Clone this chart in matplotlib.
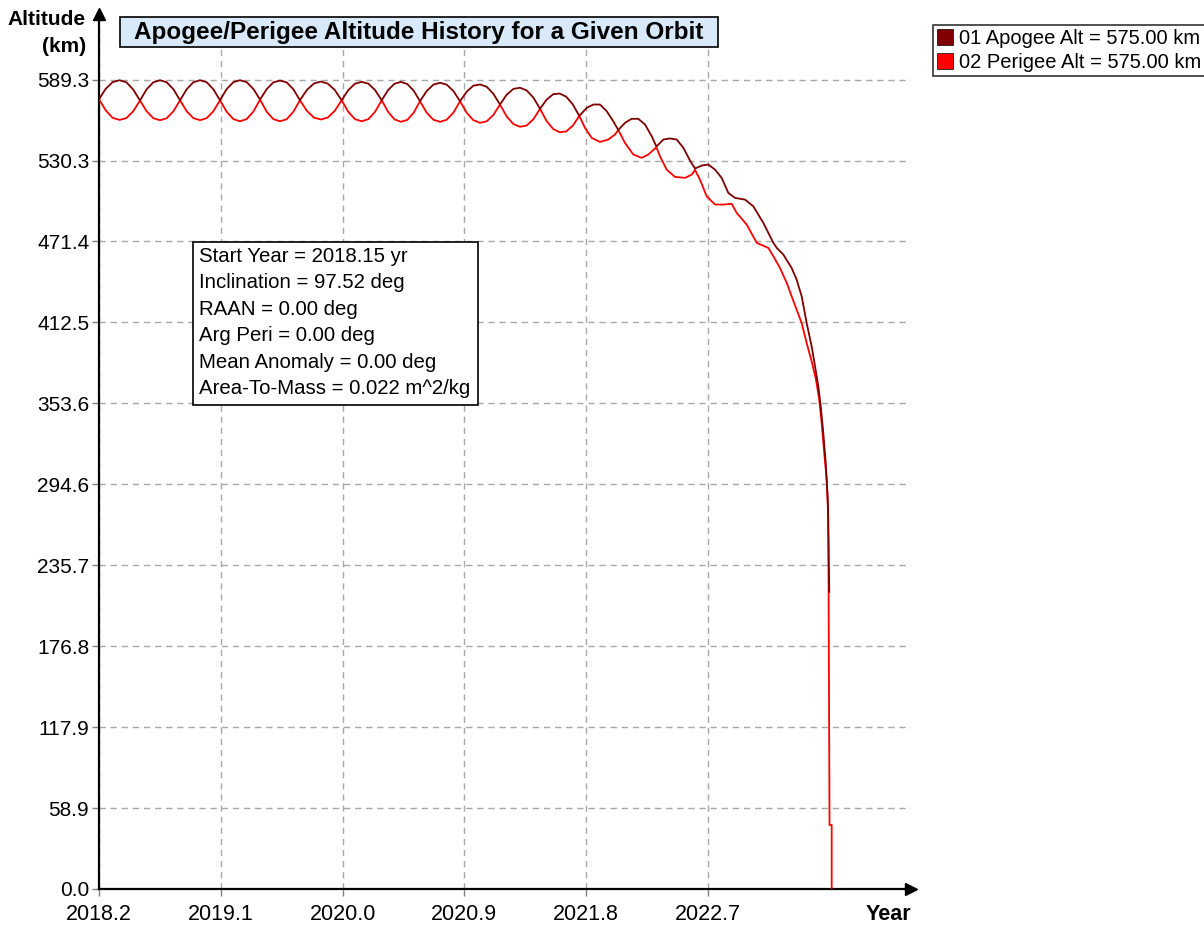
import matplotlib
matplotlib.use("Agg")
import matplotlib.pyplot as plt
from matplotlib.patches import Patch, Rectangle

plt.rcParams['font.family'] = ['Liberation Sans', 'DejaVu Sans']

# ==========================================
# DATA
# ==========================================

# first part: both series touch at the lobe edges
years_start = [
    2018.150, 2018.200, 2018.251, 2018.302, 2018.352, 2018.403,
    2018.453, 2018.502, 2018.552, 2018.601, 2018.650, 2018.700,
    2018.749, 2018.798, 2018.847, 2018.897, 2018.946, 2018.995,
    2019.044, 2019.093, 2019.143, 2019.192, 2019.241, 2019.291,
    2019.340, 2019.389, 2019.438, 2019.488, 2019.537, 2019.586,
    2019.635, 2019.686, 2019.738, 2019.789, 2019.840, 2019.892,
    2019.943, 2019.992, 2020.042, 2020.091, 2020.140, 2020.190,
    2020.239, 2020.286, 2020.333, 2020.381, 2020.428, 2020.475,
    2020.522, 2020.571, 2020.621, 2020.670, 2020.719, 2020.769,
    2020.818, 2020.867, 2020.916, 2020.966, 2021.015, 2021.064,
    2021.113, 2021.162, 2021.212, 2021.261, 2021.310, 2021.360,
    2021.409, 2021.457, 2021.506, 2021.554, 2021.602, 2021.651,
    2021.699,
]

apogee_start = [
    575.0, 582.6, 587.4, 588.8, 587.3, 582.0,
    574.0, 582.2, 587.3, 588.8, 587.3, 582.2,
    574.2, 582.2, 587.3, 588.8, 587.3, 582.2,
    574.2, 582.3, 587.4, 588.8, 587.4, 582.4,
    574.7, 582.3, 587.2, 588.6, 587.2, 582.2,
    574.2, 581.7, 586.4, 587.8, 586.4, 581.7,
    574.2, 581.6, 586.3, 587.6, 586.3, 581.6,
    574.2, 581.6, 586.2, 587.6, 586.0, 581.2,
    573.5, 580.9, 585.6, 586.9, 585.6, 580.9,
    573.5, 580.5, 584.8, 585.7, 584.0, 578.9,
    571.1, 578.2, 582.5, 583.3, 581.4, 576.1,
    568.0, 574.6, 578.6, 579.1, 576.8, 571.2,
    562.8,
]

perigee_start = [
    575.0, 566.8, 561.4, 559.9, 561.2, 566.2,
    574.0, 566.2, 561.1, 559.7, 561.1, 566.2,
    574.2, 566.2, 561.2, 559.7, 561.2, 566.2,
    574.2, 565.9, 560.5, 558.9, 560.5, 566.0,
    574.7, 565.9, 560.5, 558.9, 560.4, 565.8,
    574.2, 566.5, 561.6, 560.2, 561.6, 566.5,
    574.2, 565.8, 560.4, 558.9, 560.4, 565.8,
    574.2, 565.8, 560.3, 558.5, 559.9, 565.1,
    573.5, 565.2, 560.0, 558.5, 560.0, 565.2,
    573.5, 565.1, 559.7, 557.8, 558.9, 563.5,
    571.1, 562.5, 556.9, 554.9, 555.8, 560.4,
    568.0, 559.1, 553.3, 550.9, 551.5, 555.7,
    562.8,
]

apogee_tail_years = [
    2021.754, 2021.803, 2021.852, 2021.902, 2021.950, 2021.987,
    2022.037, 2022.086, 2022.135, 2022.185, 2022.234, 2022.269,
    2022.320, 2022.369, 2022.419, 2022.468, 2022.517, 2022.554,
    2022.604, 2022.652, 2022.702, 2022.751, 2022.800, 2022.850,
    2022.923, 2022.985, 2023.059, 2023.133, 2023.158, 2023.207,
    2023.268, 2023.305, 2023.342, 2023.379, 2023.416, 2023.441,
    2023.465, 2023.483, 2023.502, 2023.520, 2023.535, 2023.546,
]
apogee_tail = [
    568.7, 571.1, 571.1, 566.2, 558.9, 552.6,
    557.8, 560.7, 560.7, 556.5, 548.0, 540.5,
    545.6, 546.4, 545.6, 539.6, 530.3, 524.5,
    526.7, 527.4, 523.7, 517.7, 506.8, 503.1,
    501.9, 497.0, 484.9, 470.4, 466.7, 461.8,
    452.1, 443.6, 431.5, 412.1, 395.0, 380.5,
    365.9, 351.3, 331.9, 310.1, 283.4, 216.3,
]

perigee_tail_years = [
    2021.741, 2021.791, 2021.852, 2021.913, 2021.963, 2021.987,
    2022.037, 2022.098, 2022.160, 2022.209, 2022.269, 2022.295,
    2022.345, 2022.406, 2022.480, 2022.530, 2022.554, 2022.591,
    2022.640, 2022.702, 2022.763, 2022.825, 2022.862, 2022.936,
    2023.010, 2023.096, 2023.133, 2023.182, 2023.232, 2023.268,
    2023.305, 2023.342, 2023.379, 2023.416, 2023.448, 2023.472,
    2023.490, 2023.509, 2023.527, 2023.539, 2023.548, 2023.564,
    2023.564,
]
perigee_tail = [
    554.1, 546.8, 543.9, 545.6, 549.3, 552.6,
    543.1, 534.7, 532.3, 534.7, 540.0, 533.4,
    523.7, 518.4, 517.7, 520.1, 523.5, 516.4,
    504.3, 498.3, 498.3, 498.8, 492.2, 483.7,
    470.4, 466.7, 460.6, 452.1, 441.2, 431.5,
    421.8, 412.1, 397.5, 384.1, 370.8, 356.2,
    339.2, 317.4, 297.9, 271.2, 46.6, 46.6,
    0.0,
]

y_ticks = [0.0, 58.9, 117.9, 176.8, 235.7, 294.6, 353.6, 412.5, 471.4, 530.3, 589.3]
y_labels = ["0.0", "58.9", "117.9", "176.8", "235.7", "294.6",
            "353.6", "412.5", "471.4", "530.3", "589.3"]

x_ticks = [2018.15, 2019.05, 2019.95, 2020.85, 2021.75, 2022.65]
x_labels = ["2018.2", "2019.1", "2020.0", "2020.9", "2021.8", "2022.7"]

legend_labels = ["01 Apogee Alt = 575.00 km", "02 Perigee Alt = 575.00 km"]

info_lines = [
    "Start Year = 2018.15 yr",
    "Inclination = 97.52 deg",
    "RAAN = 0.00 deg",
    "Arg Peri = 0.00 deg",
    "Mean Anomaly = 0.00 deg",
    "Area-To-Mass = 0.022 m^2/kg",
]

apogee_color = "#800000"
perigee_color = "#ff0000"

W, H = 1204, 926


# ==========================================
# FIGURE
# ==========================================

fig = plt.figure(figsize=(W / 100, H / 100), dpi=100)

ax = fig.add_axes([99 / W, 37 / H, 812 / W, 875 / H])

ax.plot(
    years_start + perigee_tail_years,
    perigee_start + perigee_tail,
    color=perigee_color,
    lw=1.3,
    zorder=3
)

ax.plot(
    years_start + apogee_tail_years,
    apogee_start + apogee_tail,
    color=apogee_color,
    lw=1.3,
    zorder=4
)

ax.set_xlim(2018.15, 2024.15)
ax.set_ylim(0, 637)

ax.set_yticks(y_ticks)
ax.set_yticklabels(y_labels)
ax.set_xticks(x_ticks)
ax.set_xticklabels(x_labels)

ax.tick_params(axis="both", direction="out", length=5, width=1, color="#808080")
ax.tick_params(axis="y", labelsize=15, pad=2)
ax.tick_params(axis="x", labelsize=15.5, pad=6)

ax.grid(True, color="#a8a8a8", linestyle=(0, (4.5, 3.5)), lw=1.0)

for side in ["top", "right"]:
    ax.spines[side].set_visible(False)

for side in ["left", "bottom"]:
    ax.spines[side].set_linewidth(1.6)
    ax.spines[side].set_color("black")

# axis arrows
ax.plot([0], [1], marker="^", ms=9, color="black",
        transform=ax.transAxes, clip_on=False)
ax.plot([1], [0], marker=">", ms=9, color="black",
        transform=ax.transAxes, clip_on=False)


# ==========================================
# TITLE / LABELS
# ==========================================

fig.patches.append(Rectangle(
    (120 / W, 1 - 47 / H), 598 / W, 30 / H,
    transform=fig.transFigure, fc="#d8e9fa", ec="black", lw=1.2
))

fig.text(
    419 / W, 1 - 32 / H,
    "Apogee/Perigee Altitude History for a Given Orbit",
    ha="center", va="center",
    fontsize=17.5, fontweight="bold"
)

fig.text(
    86 / W, 1 - 33 / H,
    "Altitude\n(km)",
    ha="right", va="center", multialignment="right",
    fontsize=15, fontweight="bold", linespacing=1.55
)

fig.text(
    888 / W, 1 - 914 / H,
    "Year",
    ha="center", va="center",
    fontsize=15.5, fontweight="bold"
)


# ==========================================
# INFO BOX
# ==========================================

fig.patches.append(Rectangle(
    (193 / W, 1 - 405 / H), 285 / W, 163 / H,
    transform=fig.transFigure, fc="white", ec="black", lw=1.2, zorder=5
))

for i, line in enumerate(info_lines):
    fig.text(
        199 / W, 1 - (256 + i * 26.6) / H,
        line,
        ha="left", va="center",
        fontsize=14.7, zorder=6
    )


# ==========================================
# LEGEND
# ==========================================

handles = [
    Patch(facecolor=apogee_color, edgecolor="black", lw=0.5),
    Patch(facecolor=perigee_color, edgecolor="black", lw=0.5),
]

leg = fig.legend(
    handles, legend_labels,
    loc="upper left",
    bbox_to_anchor=(933 / W, 1 - 25 / H),
    frameon=True, fancybox=False,
    edgecolor="black",
    fontsize=14.5,
    handlelength=0.8, handleheight=0.8,
    handletextpad=0.3,
    borderpad=0.2, labelspacing=0.25,
    borderaxespad=0
)
leg.get_frame().set_linewidth(1.2)

fig.savefig("out.png", dpi=100)
